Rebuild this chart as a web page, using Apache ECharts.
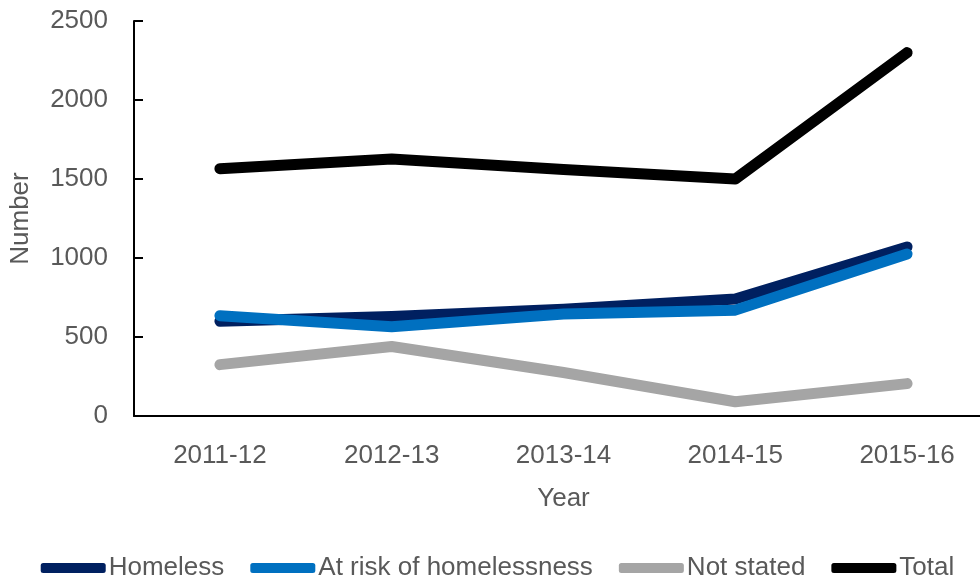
<!DOCTYPE html>
<html>
<head>
<meta charset="utf-8">
<script src="https://cdn.jsdelivr.net/npm/echarts@6/dist/echarts.min.js"></script>
<style>html,body{margin:0;padding:0;background:#fff;overflow:hidden}#c{width:995px;height:586px}</style>
</head>
<body>
<div id="c"></div>
<script>
const categories = ['2011-12', '2012-13', '2013-14', '2014-15', '2015-16'];
const homeless = [600, 630, 675, 740, 1070];
const atRisk = [635, 565, 645, 670, 1025];
const notStated = [325, 440, 275, 90, 205];
const total = [1565, 1627, 1560, 1500, 2300];
const yTicks = [0, 500, 1000, 1500, 2000, 2500];

const font = 'Liberation Sans';
const chart = echarts.init(document.getElementById('c'));
function line(name, data, color) {
  return {
    name, type: 'line', data, symbol: 'none', smooth: false,
    lineStyle: { color, width: 11, cap: 'round', join: 'round' },
    itemStyle: { color },
    emphasis: { disabled: true }
  };
}
chart.setOption({
  animation: false,
  textStyle: { fontFamily: font },
  grid: { left: 133, top: 21, right: 2, bottom: 170, containLabel: false },
  xAxis: {
    type: 'category', data: categories, boundaryGap: true,
    name: 'Year', nameLocation: 'middle', nameGap: 70,
    nameTextStyle: { color: '#595959', fontSize: 26, fontFamily: font },
    axisLine: { lineStyle: { color: '#000', width: 2 } },
    axisTick: { inside: true, length: 9, lineStyle: { color: '#000', width: 2 } },
    axisLabel: { color: '#595959', fontSize: 26, margin: 27, fontFamily: font },
    splitLine: { show: false }
  },
  yAxis: {
    type: 'value', min: yTicks[0], max: yTicks[yTicks.length - 1], interval: 500,
    name: 'Number', nameLocation: 'middle', nameGap: 100, nameRotate: 90,
    nameTextStyle: { color: '#595959', fontSize: 26, fontFamily: font },
    axisLine: { show: true, lineStyle: { color: '#000', width: 2 } },
    axisTick: { show: true, inside: true, length: 9, lineStyle: { color: '#000', width: 2 } },
    axisLabel: { color: '#595959', fontSize: 26, margin: 26, fontFamily: font, formatter: v => String(v) },
    splitLine: { show: false }
  },
  legend: {
    bottom: 0, left: 'center', itemWidth: 65, itemHeight: 10, itemGap: 26,
    icon: 'roundRect',
    textStyle: { color: '#595959', fontSize: 26, fontFamily: font, padding: [0, 0, 0, -2] },
    data: ['Homeless', 'At risk of homelessness', 'Not stated', 'Total']
  },
  series: [
    line('Homeless', homeless, '#002060'),
    line('At risk of homelessness', atRisk, '#0070C0'),
    line('Not stated', notStated, '#A5A5A5'),
    line('Total', total, '#000000')
  ]
});
</script>
</body>
</html>
